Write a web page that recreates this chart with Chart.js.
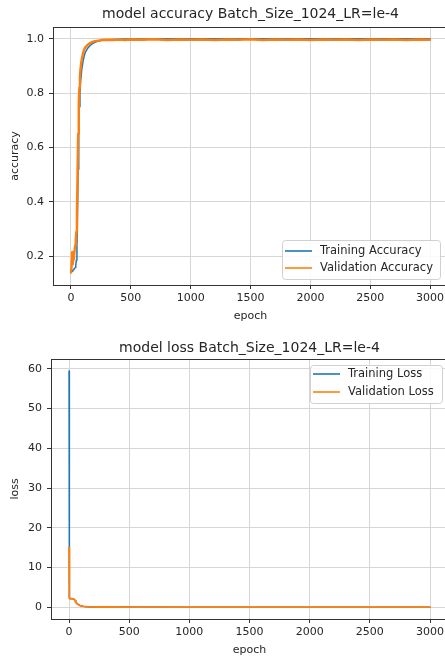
<!DOCTYPE html>
<html><head><meta charset="utf-8">
<script src="https://cdn.jsdelivr.net/npm/chart.js@4.4.0/dist/chart.umd.min.js"></script>
<style>
html,body{margin:0;padding:0;background:#fff;overflow:hidden;width:445px;height:660px;position:relative}
canvas{position:absolute;left:0}
#c1{top:0}
#c2{top:330px}
</style></head><body>
<canvas id="c1" width="460" height="330"></canvas>
<canvas id="c2" width="460" height="330"></canvas>
<script>
// ---------- data ----------
const accEpochs = [0,5,10,15,20,25,30,35,40,45,50,55,60,65,70,75,80,90,100,110,120,140,160,180,200,230,260,300,350,400,450,500,600,700,800,900,1000,1100,1200,1300,1400,1500,1600,1700,1800,1900,2000,2100,2200,2300,2400,2500,2600,2700,2800,2900,2999];
const trainAcc = [0.140,0.142,0.145,0.148,0.150,0.152,0.155,0.158,0.165,0.185,
 0.240,0.360,0.520,0.660,0.750,0.800,0.840,0.885,0.915,0.935,
 0.950,0.965,0.975,0.982,0.987,0.991,0.994,0.996,0.997,0.998,
 0.999,0.999,0.999,0.999,0.9995,0.9995,0.9995,0.9995,0.9995,0.9996,
 0.9996,0.9996,0.9997,0.9997,0.9997,0.9997,0.9998,0.9998,0.9998,0.9998,
 0.9998,0.9999,0.9999,0.9999,0.9999,0.9999,0.9999];
const valAcc = [0.140,0.160,0.215,0.170,0.190,0.200,0.220,0.240,0.260,0.290,
 0.360,0.500,0.650,0.760,0.820,0.860,0.890,0.925,0.945,0.960,
 0.968,0.978,0.984,0.988,0.991,0.993,0.995,0.996,0.995,0.997,
 0.995,0.997,0.996,0.998,0.995,0.997,0.996,0.997,0.995,0.997,
 0.996,0.998,0.995,0.997,0.996,0.997,0.995,0.997,0.996,0.997,
 0.995,0.997,0.996,0.997,0.995,0.997,0.996];

const lossEpochs = [0,1,2,3,5,10,20,30,40,45,50,55,60,70,80,90,100,120,150,200,300,500,1000,1500,2000,2500,2999];
const trainLoss = [59.5,25.0,6.0,2.6,2.3,2.2,2.2,2.1,2.0,1.9,1.7,1.4,1.1,0.8,0.6,0.45,0.35,0.2,0.12,0.06,0.03,0.02,0.01,0.01,0.01,0.01,0.01];
const valLoss = [15.0,8.0,3.0,2.2,2.2,2.1,2.1,2.1,2.0,1.9,1.6,1.3,1.1,0.8,0.6,0.4,0.3,0.18,0.1,0.06,0.04,0.03,0.02,0.02,0.02,0.02,0.02];

const epochTicks = [0,500,1000,1500,2000,2500,3000];
const accTicks = [0.2,0.4,0.6,0.8,1.0];
const lossTicks = [0,10,20,30,40,50,60];

const accTitle = 'model accuracy Batch_Size_1024_LR=le-4';
const lossTitle = 'model loss Batch_Size_1024_LR=le-4';
const accLabels = ['Training Accuracy','Validation Accuracy'];
const lossLabels = ['Training Loss','Validation Loss'];

// ---------- styling ----------
const BLUE = '#1f77b4', ORANGE = '#ff7f0e', TXT = '#262626';
const FONT = "'DejaVu Sans', sans-serif";
Chart.defaults.font.family = FONT;
Chart.defaults.font.size = 11;
Chart.defaults.color = TXT;

const framePlugin = {
  id: 'frame',
  afterDraw(chart, args, o) {
    const {ctx, chartArea: a} = chart;
    ctx.save();
    ctx.strokeStyle = '#333';
    ctx.lineWidth = 1;
    ctx.strokeRect(Math.round(a.left) + 0.5, Math.round(a.top) + 0.5, Math.round(a.right - a.left), Math.round(a.bottom - a.top));
    // title centred over the plot area
    ctx.fillStyle = TXT;
    ctx.font = '14px ' + FONT;
    ctx.textAlign = 'center';
    ctx.textBaseline = 'middle';
    ctx.fillText(o.text, (a.left + a.right) / 2, o.y);
    ctx.restore();
  }
};

const boxLegend = {
  id: 'boxLegend',
  afterDraw(chart, args, o) {
    const ctx = chart.ctx;
    ctx.save();
    ctx.beginPath();
    ctx.roundRect(o.x + 0.5, o.y + 0.5, o.w, o.h, 3);
    ctx.fillStyle = 'rgba(255,255,255,0.85)';
    ctx.fill();
    ctx.strokeStyle = '#d0d0d0';
    ctx.lineWidth = 1;
    ctx.stroke();
    ctx.font = '11.5px ' + FONT;
    ctx.textBaseline = 'middle';
    ctx.textAlign = 'left';
    chart.data.datasets.forEach((ds, i) => {
      const yy = o.rowY[i];
      ctx.strokeStyle = ds.borderColor;
      ctx.lineWidth = 1.6;
      ctx.beginPath();
      ctx.moveTo(o.hx0, yy);
      ctx.lineTo(o.hx1, yy);
      ctx.stroke();
      ctx.fillStyle = TXT;
      ctx.fillText(ds.label, o.tx, yy);
    });
    ctx.restore();
  }
};

function pts(xs, ys) { return xs.map((x, i) => ({x: x, y: ys[i]})); }

function makeChart(id, g) {
  return new Chart(document.getElementById(id), {
    type: 'line',
    data: {
      datasets: [
        {label: g.labels[0], data: pts(g.xs, g.y1), borderColor: BLUE, borderWidth: 1.5, order: 1},
        {label: g.labels[1], data: pts(g.xs, g.y2), borderColor: ORANGE, borderWidth: g.w2, order: 0}
      ]
    },
    options: {
      responsive: false,
      animation: false,
      devicePixelRatio: 1,
      events: [],
      elements: {point: {radius: 0}, line: {tension: 0, borderCapStyle: 'round', borderJoinStyle: 'round'}},
      layout: {padding: {left: 0, right: 460 - g.right, top: g.top, bottom: 0}},
      plugins: {
        legend: {display: false},
        tooltip: {enabled: false},
        title: {display: false},
        frame: {text: g.title, y: g.titleY},
        boxLegend: g.legend
      },
      scales: {
        x: {
          type: 'linear', min: -150, max: 3149.5,
          afterBuildTicks: s => { s.ticks = epochTicks.map(v => ({value: v})); },
          afterFit: s => { s.height = 330 - g.bottom; },
          ticks: {callback: v => String(v), padding: 3, maxRotation: 0, autoSkip: false, color: TXT},
          grid: {color: '#d6d6d6', lineWidth: 1, tickColor: '#333', tickLength: 4},
          border: {display: false},
          title: {display: true, text: 'epoch', color: TXT, font: {size: 11}, padding: {top: 0, bottom: g.xtPad}}
        },
        y: {
          type: 'linear', min: g.ymin, max: g.ymax,
          afterBuildTicks: s => { s.ticks = g.yTicks.map(v => ({value: v})); },
          afterFit: s => { s.width = g.left; },
          ticks: {callback: g.fmt, padding: 5, autoSkip: false, color: TXT},
          grid: {color: '#d6d6d6', lineWidth: 1, tickColor: '#333', tickLength: 4},
          border: {display: false},
          title: {display: true, text: g.ylabel, color: TXT, font: {size: 11}, padding: {top: 8.4, bottom: 0}}
        }
      }
    },
    plugins: [framePlugin, boxLegend]
  });
}

makeChart('c1', {
  xs: accEpochs, y1: trainAcc, y2: valAcc, w2: 2.4, labels: accLabels, title: accTitle, titleY: 14,
  ymin: 0.094, ymax: 1.043, yTicks: accTicks, fmt: v => v.toFixed(1), ylabel: 'accuracy',
  left: 53, right: 448, top: 27, bottom: 285, xtPad: 7.4,
  legend: {x: 282, y: 240, w: 158, h: 39, rowY: [251, 268], hx0: 285, hx1: 312, tx: 320}
});

makeChart('c2', {
  xs: lossEpochs, y1: trainLoss, y2: valLoss, w2: 1.8, labels: lossLabels, title: lossTitle, titleY: 18,
  ymin: -2.98, ymax: 62.5, yTicks: lossTicks, fmt: v => String(v), ylabel: 'loss',
  left: 51, right: 448, top: 29, bottom: 289, xtPad: 3.4,
  legend: {x: 310, y: 35, w: 132, h: 38, rowY: [44, 62], hx0: 313, hx1: 340, tx: 348}
});
</script>
</body></html>
